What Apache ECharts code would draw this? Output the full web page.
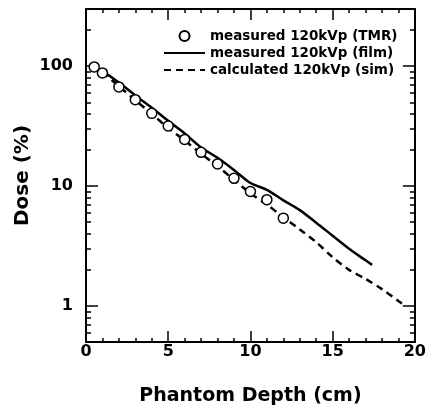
<!DOCTYPE html>
<html>
<head>
<meta charset="utf-8">
<script src="https://cdn.jsdelivr.net/npm/echarts@6/dist/echarts.min.js"></script>
<style>
  html, body { margin: 0; padding: 0; background: #fff; }
  #chart { width: 429px; height: 411px; }
</style>
</head>
<body>
<div id="chart"></div>
<script>
// Depth-dose curves, 120 kVp beam
const depthTMR = [0.5, 1, 2, 3, 4, 5, 6, 7, 8, 9, 10, 11, 12];
const doseTMR  = [98.6, 87.9, 67.2, 52.6, 40.4, 31.7, 24.5, 19.1, 15.3, 11.6, 9.0, 7.7, 5.4];

const depthFilm = [0.2, 1, 2, 3, 4, 5, 6, 7, 8, 9, 10, 11, 12, 13, 14, 15, 16, 17, 17.4];
const doseFilm  = [95, 90, 73, 57, 45, 35, 27.5, 21, 17.2, 13.6, 10.6, 9.3, 7.6, 6.3, 4.95, 3.85, 3.0, 2.4, 2.2];

const depthSim = [0.3, 1, 2, 3, 4, 5, 6, 7, 8, 9, 10, 11, 12, 13, 14, 15, 16, 17, 18, 19, 19.4];
const doseSim  = [96, 88, 68, 52, 40, 30.5, 24, 18.6, 14.6, 11.3, 8.7, 7.0, 5.5, 4.35, 3.4, 2.55, 2.0, 1.68, 1.38, 1.1, 1.0];

const seriesNames = ['measured 120kVp (TMR)', 'measured 120kVp (film)', 'calculated 120kVp (sim)'];

const xTicks = [0, 5, 10, 15, 20];
const yMajorTicks = [1, 10, 100];
const yMinorTicks = [0.6, 0.7, 0.8, 0.9, 2, 3, 4, 5, 6, 7, 8, 9, 20, 30, 40, 50, 60, 70, 80, 90, 200];
const yMin = 0.5, yMax = 300;

const pairs = (xs, ys) => xs.map((x, i) => [x, ys[i]]);

const FONT = 'DejaVu Sans';
const frame = { show: true, lineStyle: { color: '#000', width: 2 } };

function xAxisDef(pos, showLabels) {
  return {
    type: 'value', position: pos, min: xTicks[0], max: xTicks[xTicks.length - 1], interval: 5,
    axisLine: Object.assign({ onZero: false }, frame),
    axisTick: { show: true, inside: true, length: 11, lineStyle: { color: '#000', width: 1.5 } },
    minorTick: { show: true, splitNumber: 5, length: 4, lineStyle: { color: '#000', width: 1.5 } },
    splitLine: { show: false },
    axisLabel: { show: showLabels, color: '#000', fontFamily: FONT, fontWeight: 'bold', fontSize: 16, margin: 2 },
    name: showLabels ? 'Phantom Depth (cm)' : '',
    nameLocation: 'middle', nameGap: 45,
    nameTextStyle: { color: '#000', fontFamily: FONT, fontWeight: 'bold', fontSize: 19 }
  };
}

function yMajorDef(pos, showLabels) {
  return {
    type: 'log', logBase: 10, position: pos, min: yMin, max: yMax,
    axisLine: frame,
    axisTick: { show: true, inside: true, length: 12, lineStyle: { color: '#000', width: 1.5 } },
    splitLine: { show: false },
    axisLabel: {
      show: showLabels, color: '#000', fontFamily: FONT, fontWeight: 'bold', fontSize: 16, margin: 13,
      showMinLabel: false, showMaxLabel: false,
      formatter: v => (yMajorTicks.indexOf(v) >= 0 ? String(v) : '')
    },
    name: showLabels ? 'Dose (%)' : '',
    nameLocation: 'middle', nameGap: 53, nameMoveOverlap: false,
    nameTextStyle: { color: '#000', fontFamily: FONT, fontWeight: 'bold', fontSize: 20 }
  };
}

// minor log ticks placed on a companion linear axis in log10 units
function yMinorDef(pos) {
  return {
    type: 'value', position: pos, min: Math.log10(yMin), max: Math.log10(yMax),
    axisLine: { show: false },
    axisTick: {
      show: true, inside: true, length: 5, lineStyle: { color: '#000', width: 1.5 },
      customValues: yMinorTicks.map(v => Math.log10(v))
    },
    axisLabel: { show: false },
    splitLine: { show: false }
  };
}

const chart = echarts.init(document.getElementById('chart'), null, { renderer: 'canvas' });
chart.setOption({
  animation: false,
  backgroundColor: '#fff',
  grid: { left: 86, right: 11, top: 9, bottom: 69, containLabel: false },
  legend: {
    data: [
      { name: seriesNames[0] },
      { name: seriesNames[1], itemStyle: { opacity: 0 } },
      { name: seriesNames[2], itemStyle: { opacity: 0 } }
    ],
    orient: 'vertical', left: 163, top: 29, padding: 0,
    itemWidth: 41, itemHeight: 10, itemGap: 3,
    textStyle: { color: '#000', fontFamily: FONT, fontWeight: 'bold', fontSize: 13.5 },
    selectedMode: false
  },
  xAxis: [xAxisDef('bottom', true), xAxisDef('top', false)],
  yAxis: [yMajorDef('left', true), yMinorDef('left'), yMajorDef('right', false), yMinorDef('right')],
  series: [
    {
      name: seriesNames[1], type: 'line', xAxisIndex: 0, yAxisIndex: 0,
      data: pairs(depthFilm, doseFilm), symbol: 'none', smooth: 0.3,
      lineStyle: { color: '#000', width: 2.5, type: 'solid' }, itemStyle: { color: '#000' }, z: 2
    },
    {
      name: seriesNames[2], type: 'line', xAxisIndex: 0, yAxisIndex: 0,
      data: pairs(depthSim, doseSim), symbol: 'none', smooth: 0.3,
      lineStyle: { color: '#000', width: 2.5, type: [7, 5] }, itemStyle: { color: '#000' }, z: 2
    },
    {
      name: seriesNames[0], type: 'scatter', xAxisIndex: 0, yAxisIndex: 0,
      data: pairs(depthTMR, doseTMR), symbol: 'circle', symbolSize: 10,
      itemStyle: { color: '#fff', borderColor: '#000', borderWidth: 1.5, opacity: 1 }, z: 3
    }
  ]
});
</script>
</body>
</html>
